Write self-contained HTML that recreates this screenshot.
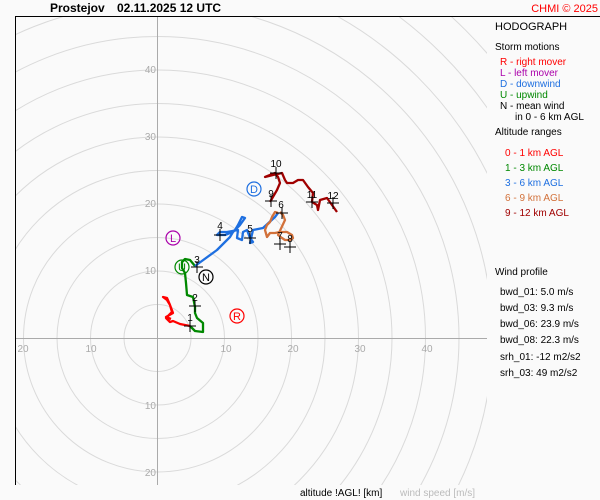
<!DOCTYPE html>
<html><head><meta charset="utf-8"><style>
html,body{margin:0;padding:0;width:600px;height:500px;overflow:hidden;background:#fafafa;}
svg{display:block;font-family:"Liberation Sans",sans-serif;}
</style></head><body>
<svg width="600" height="500" viewBox="0 0 600 500" xmlns="http://www.w3.org/2000/svg">
<rect width="600" height="500" fill="#fafafa"/>
<defs><clipPath id="c"><rect x="15" y="17" width="472" height="468"/></clipPath></defs>
<g clip-path="url(#c)" fill="none" stroke="#dadada" stroke-width="1">
<circle cx="157.5" cy="338" r="33.5"/><circle cx="157.5" cy="338" r="67"/><circle cx="157.5" cy="338" r="100.5"/>
<circle cx="157.5" cy="338" r="134"/><circle cx="157.5" cy="338" r="167.5"/><circle cx="157.5" cy="338" r="201"/>
<circle cx="157.5" cy="338" r="234.5"/><circle cx="157.5" cy="338" r="268"/><circle cx="157.5" cy="338" r="301.5"/>
<circle cx="157.5" cy="338" r="335"/><circle cx="157.5" cy="338" r="368.5"/><circle cx="157.5" cy="338" r="402"/>
<circle cx="157.5" cy="338" r="435.5"/><circle cx="157.5" cy="338" r="469"/>
</g>
<line x1="157.5" y1="17" x2="157.5" y2="485" stroke="#aaa"/>
<line x1="15" y1="338.5" x2="487" y2="338.5" stroke="#aaa"/>
<line x1="15.5" y1="17" x2="15.5" y2="485" stroke="#000"/>
<line x1="15" y1="16.5" x2="600" y2="16.5" stroke="#000"/>
<g font-size="10" fill="#aaa">
<text x="23" y="352" text-anchor="middle">20</text><text x="91" y="352" text-anchor="middle">10</text>
<text x="226" y="352" text-anchor="middle">10</text><text x="293" y="352" text-anchor="middle">20</text>
<text x="360" y="352" text-anchor="middle">30</text><text x="427" y="352" text-anchor="middle">40</text>
<text x="156" y="73" text-anchor="end">40</text><text x="156" y="140" text-anchor="end">30</text>
<text x="156" y="207" text-anchor="end">20</text><text x="156" y="274" text-anchor="end">10</text>
<text x="156" y="409" text-anchor="end">10</text><text x="156" y="476" text-anchor="end">20</text>
</g>
<g fill="none" stroke-width="2.3" stroke-linejoin="round">
<polyline stroke="#f00" points="190,326 180,324 173,321 170,322 166,318 172,312 170,305 167,300 163,297 167,298 170,305 173,313 166,317 171,319"/>
<polyline stroke="#080" points="190,326 195,331 203,332 203,323 197,318 195,313 195,307 193,297 187,295 186,283 185,273 182,268 182,262 185,259 190,260 195,266"/>
<polyline stroke="#1e6fe0" points="195,266 217,250 230,237 233,232 240,225 245,218 242,217 238,225 235,230 230,233 225,235 217,235 220,232 227,232 238,230 237,238 242,240 243,232 247,230 250,238 253,242 250,243 253,230 263,228 275,217 278,213"/>
<polyline stroke="#d2713a" points="278,213 275,212 272,217 270,222 267,225 265,230 267,237 270,233 275,233 280,232 287,232 292,235 293,238 290,240 285,240 282,238 278,235 285,220 283,215 280,212"/>
<polyline stroke="#a00000" points="270,202 277,190 280,183 278,177 275,173 265,177 273,175 282,173 285,180 287,183 293,183 298,180 303,180 308,187 313,193 312,202 317,205 318,210 320,200 327,198 332,205 337,212"/>
</g>
<g stroke="#000" stroke-width="1">
<path d="M184 326h12M190 320v12M189 306h12M195 300v12M191 267h12M197 261v12M214 235h12M220 229v12M244 238h12M250 232v12M276 213h12M282 207v12M274 244h12M280 238v12M284 247h12M290 241v12M265 201h12M271 195v12M270 173h12M276 167v12M306 202h12M312 196v12M327 203h12M333 197v12"/>
</g>
<g font-size="10" fill="#000" text-anchor="middle">
<text x="190" y="321">1</text><text x="195" y="301">2</text><text x="197" y="263">3</text><text x="220" y="229">4</text>
<text x="250" y="232">5</text><text x="281" y="208">6</text><text x="280" y="239">7</text><text x="290" y="242">8</text>
<text x="271" y="197">9</text><text x="276" y="167">10</text><text x="312" y="198">11</text><text x="333" y="199">12</text>
</g>
<g font-size="11" text-anchor="middle" fill="none" stroke-width="1.2">
<circle cx="237" cy="316" r="7" stroke="#f00"/><text x="237" y="320" fill="#f00" stroke="none">R</text>
<circle cx="173" cy="238" r="7" stroke="#a0a"/><text x="173" y="242" fill="#a0a" stroke="none">L</text>
<circle cx="254" cy="189" r="7" stroke="#1e6fe0"/><text x="254" y="193" fill="#1e6fe0" stroke="none">D</text>
<circle cx="182" cy="267" r="7" stroke="#080"/><text x="182" y="271" fill="#080" stroke="none">U</text>
<circle cx="206" cy="277" r="7" stroke="#000"/><text x="206" y="281" fill="#000" stroke="none">N</text>
</g>
<text x="50" y="12" font-size="12" font-weight="bold">Prostejov</text>
<text x="117" y="12" font-size="12" font-weight="bold">02.11.2025 12 UTC</text>
<text x="598" y="12" font-size="11" fill="#f00" text-anchor="end">CHMI © 2025</text>
<g font-size="10">
<text x="495" y="30" font-size="11">HODOGRAPH</text>
<text x="495" y="50">Storm motions</text>
<text x="500" y="65" fill="#f00">R - right mover</text>
<text x="500" y="76" fill="#a0a">L - left mover</text>
<text x="500" y="87" fill="#1e6fe0">D - downwind</text>
<text x="500" y="98" fill="#080">U - upwind</text>
<text x="500" y="109">N - mean wind</text>
<text x="515" y="120">in 0 - 6 km AGL</text>
<text x="495" y="135">Altitude ranges</text>
<text x="505" y="156" fill="#f00">0 - 1 km AGL</text>
<text x="505" y="171" fill="#080">1 - 3 km AGL</text>
<text x="505" y="186" fill="#1e6fe0">3 - 6 km AGL</text>
<text x="505" y="201" fill="#d2713a">6 - 9 km AGL</text>
<text x="505" y="216" fill="#a00000">9 - 12 km AGL</text>
<text x="495" y="275">Wind profile</text>
<text x="500" y="295">bwd_01: 5.0 m/s</text>
<text x="500" y="311">bwd_03: 9.3 m/s</text>
<text x="500" y="327">bwd_06: 23.9 m/s</text>
<text x="500" y="343">bwd_08: 22.3 m/s</text>
<text x="500" y="360">srh_01: -12 m2/s2</text>
<text x="500" y="376">srh_03: 49 m2/s2</text>
<text x="300" y="496">altitude !AGL! [km]</text>
<text x="400" y="496" fill="#bbb">wind speed [m/s]</text>
</g>
</svg>
</body></html>
